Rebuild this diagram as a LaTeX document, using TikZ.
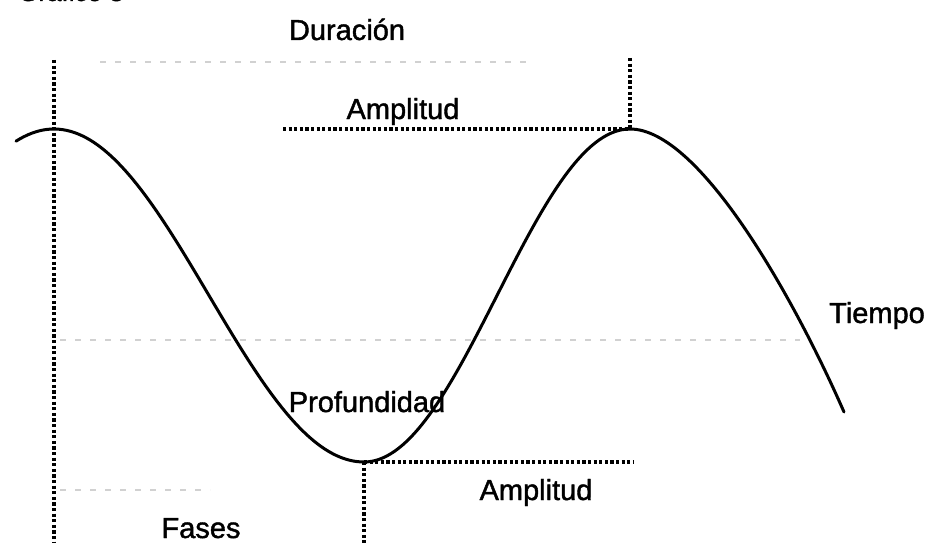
\documentclass[tikz,border=0pt]{standalone}
\usepackage{fontspec}
\setmainfont{Liberation Sans}
\newfontfamily\lblfont[FakeBold=1.4]{Liberation Sans}
\begin{document}
\begin{tikzpicture}[x=1pt,y=-1pt,
  lbl/.style={anchor=base,inner sep=0pt,font=\lblfont\fontsize{29}{34}\selectfont},
  guide/.style={line width=3.2pt,dash pattern=on 3.2pt off 2.4pt},
  faint/.style={line width=1.4pt,black!18,dash pattern=on 6pt off 9pt},
  wave/.style={line width=3pt,line join=round,line cap=round}]
\useasboundingbox (0,0) rectangle (930,543);
\fill[white] (0,0) rectangle (930,543);
% cut-off caption at the top
\node[inner sep=0pt,anchor=base west,font=\lblfont\fontsize{26}{30}\selectfont] (cap) at (18,1) {Gráfico 3};
% faint scan lines
\coordinate (f1a) at (100,62); \coordinate (f1b) at (530,62);
\coordinate (f2a) at (60,340); \coordinate (f2b) at (800,340);
\coordinate (f3a) at (60,490); \coordinate (f3b) at (210,490);
\draw[faint] (f1a) -- (f1b);
\draw[faint] (f2a) -- (f2b);
\draw[faint] (f3a) -- (f3b);
% key points
\coordinate (p1) at (54,129);
\coordinate (p2) at (630,129);
\coordinate (tr) at (364,462);
\coordinate (top1) at (54,60);
\coordinate (bot1) at (54,543);
\coordinate (top2) at (630,58);
\coordinate (hl) at (283,129);
\coordinate (hr) at (633,462);
\coordinate (bot2) at (364,543);
\coordinate (endw) at (844,412);
% dashed guides
\draw[guide] (top1) -- (bot1);
\draw[guide] (top2) -- (p2);
\draw[guide] (hl) -- (p2);
\draw[guide] (tr) -- (hr);
\draw[guide] (tr) -- (bot2);
% wave
\draw[wave] plot[domain=16:364,samples=90] (\x,{295.5-166.5*cos(0.580645*(\x-54))})
  -- plot[domain=364:630,samples=70] (\x,{295.5+166.5*cos(0.676692*(\x-364))})
  .. controls (700,129) and (795,300) .. (endw);
% labels
\node[lbl] (dur) at (347,40) {Duración};
\node[lbl] (amp1) at (403,119) {Amplitud};
\node[lbl] (tie) at (877,323) {Tiempo};
\node[lbl] (pro) at (367,412) {Profundidad};
\node[lbl] (amp2) at (536,500) {Amplitud};
\node[lbl] (fas) at (201,538) {Fases};
\end{tikzpicture}
\end{document}
